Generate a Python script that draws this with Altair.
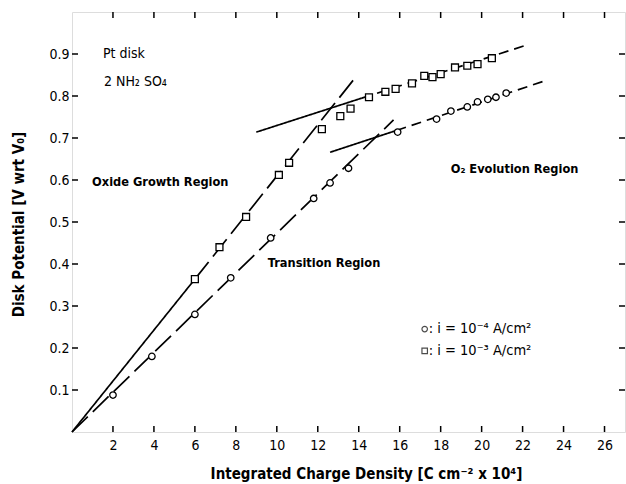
import altair as alt
import pandas as pd

# ---- data ----
circ_x = [2.0, 3.9, 6.0, 7.75, 9.7, 11.8, 12.6, 13.5, 15.9, 17.8, 18.5, 19.3, 19.8, 20.3, 20.7, 21.2]
circ_y = [0.088, 0.18, 0.28, 0.367, 0.462, 0.556, 0.593, 0.628, 0.714, 0.745, 0.764, 0.774, 0.786, 0.792, 0.797, 0.807]
sq_x = [6.0, 7.2, 8.5, 10.1, 10.6, 12.2, 13.1, 13.6, 14.5, 15.3, 15.8, 16.6, 17.2, 17.6, 18.0, 18.7, 19.3, 19.8, 20.5]
sq_y = [0.364, 0.44, 0.512, 0.612, 0.641, 0.721, 0.752, 0.77, 0.797, 0.81, 0.817, 0.83, 0.848, 0.845, 0.852, 0.868, 0.872, 0.876, 0.89]

# fitted / tangent lines: start x, start y, end x, end y, style
line_x1 = [0.0, 6.0, 0.0, 9.0, 14.15, 12.6, 15.84]
line_y1 = [0.0, 0.364, 0.0, 0.714, 0.795, 0.666, 0.718]
line_x2 = [6.0, 13.9, 15.7, 14.15, 22.05, 15.84, 23.2]
line_y2 = [0.364, 0.848, 0.743, 0.795, 0.919, 0.718, 0.838]
line_style = ["solid", "longdash", "longdash", "solid", "dash", "solid", "dash"]

x_ticks = [2, 4, 6, 8, 10, 12, 14, 16, 18, 20, 22, 24, 26]
y_ticks = [0.1, 0.2, 0.3, 0.4, 0.5, 0.6, 0.7, 0.8, 0.9]

note_text = ["Pt disk", "2 NH\u2082 SO\u2084"]
note_x = [1.51, 1.56]
note_y = [0.90, 0.833]

region_text = ["Oxide Growth Region", "Transition Region", "O\u2082 Evolution Region"]
region_x = [0.98, 9.56, 18.49]
region_y = [0.595, 0.402, 0.626]

legend_text = [": i = 10\u207b\u2074 A/cm\u00b2", ": i = 10\u207b\u00b3 A/cm\u00b2"]
legend_marker = ["circle", "square"]
legend_x = [17.22, 17.22]
legend_y = [0.245, 0.193]

FONT = "DejaVu Sans Condensed, DejaVu Sans, sans-serif"

xs = alt.Scale(domain=[0, 27], nice=False, zero=False)
ys = alt.Scale(domain=[0, 1.0], nice=False, zero=False)

circ_df = pd.DataFrame({"x": circ_x, "y": circ_y})
sq_df = pd.DataFrame({"x": sq_x, "y": sq_y})
lines_df = pd.DataFrame({"x": line_x1, "y": line_y1, "x2": line_x2, "y2": line_y2, "style": line_style})

xaxis = alt.Axis(values=x_ticks, grid=False, domain=False, tickSize=0, labelPadding=6,
                 labelFontSize=14, labelFont=FONT, labelColor="black",
                 title="Integrated Charge Density [C cm\u207b\u00b2 x 10\u2074]",
                 titleFont=FONT, titleFontSize=15, titleFontWeight="bold", titleColor="black",
                 titleX=294, titleY=41, titleBaseline="middle")
yaxis = alt.Axis(values=y_ticks, grid=False, domain=False, tickSize=0, labelPadding=3,
                 labelFontSize=14, labelFont=FONT, labelColor="black", format=".1f",
                 title="Disk Potential [V wrt V\u2080]",
                 titleFont=FONT, titleFontSize=15, titleFontWeight="bold", titleColor="black",
                 titleX=-54, titleY=212, titleAngle=270, titleAlign="center", titleBaseline="middle")

base_lines = alt.Chart(lines_df).mark_rule(color="black", strokeWidth=1.7).encode(
    x=alt.X("x:Q", scale=xs, axis=xaxis),
    y=alt.Y("y:Q", scale=ys, axis=yaxis),
    x2="x2:Q", y2="y2:Q",
    strokeDash=alt.StrokeDash("style:N", legend=None,
        scale=alt.Scale(domain=["solid", "longdash", "dash"], range=[[1, 0], [22, 7], [10, 6]])),
)

circles = alt.Chart(circ_df).mark_point(shape="circle", size=42, filled=False, color="black",
                                         strokeWidth=1.3, fill="white", fillOpacity=1).encode(
    x=alt.X("x:Q", scale=xs), y=alt.Y("y:Q", scale=ys))
squares = alt.Chart(sq_df).mark_point(shape="square", size=48, filled=False, color="black",
                                       strokeWidth=1.3, fill="white", fillOpacity=1).encode(
    x=alt.X("x:Q", scale=xs), y=alt.Y("y:Q", scale=ys))

xt_df = pd.DataFrame({"x": x_ticks})
yt_df = pd.DataFrame({"y": y_ticks})
tick_bot = alt.Chart(xt_df).mark_rule(color="black", strokeWidth=1.5).encode(
    x=alt.X("x:Q", scale=xs), y=alt.value(420), y2=alt.value(414))
tick_top = alt.Chart(xt_df).mark_rule(color="black", strokeWidth=1.5).encode(
    x=alt.X("x:Q", scale=xs), y=alt.value(0), y2=alt.value(6))
tick_left = alt.Chart(yt_df).mark_rule(color="black", strokeWidth=1.5).encode(
    y=alt.Y("y:Q", scale=ys), x=alt.value(0), x2=alt.value(6))
tick_right = alt.Chart(yt_df).mark_rule(color="black", strokeWidth=1.5).encode(
    y=alt.Y("y:Q", scale=ys), x=alt.value(553), x2=alt.value(547))

notes = alt.Chart(pd.DataFrame({"t": note_text, "x": note_x, "y": note_y})).mark_text(
    align="left", baseline="middle", font=FONT, fontSize=14, color="black").encode(
    x=alt.X("x:Q", scale=xs), y=alt.Y("y:Q", scale=ys), text="t:N")
regions = alt.Chart(pd.DataFrame({"t": region_text, "x": region_x, "y": region_y})).mark_text(
    align="left", baseline="middle", font=FONT, fontSize=12.7, fontWeight="bold", color="black").encode(
    x=alt.X("x:Q", scale=xs), y=alt.Y("y:Q", scale=ys), text="t:N")

leg_df = pd.DataFrame({"t": legend_text, "m": legend_marker, "x": legend_x, "y": legend_y})
leg_marks = alt.Chart(leg_df).mark_point(size=30, filled=False, color="black", strokeWidth=1.2).encode(
    x=alt.X("x:Q", scale=xs), y=alt.Y("y:Q", scale=ys),
    shape=alt.Shape("m:N", legend=None, scale=alt.Scale(domain=["circle", "square"], range=["circle", "square"])))
leg_text = alt.Chart(leg_df).mark_text(align="left", baseline="middle", dx=4, font=FONT, fontSize=14.5,
                                       color="black").encode(
    x=alt.X("x:Q", scale=xs), y=alt.Y("y:Q", scale=ys), text="t:N")

chart = alt.layer(base_lines, circles, squares, tick_bot, tick_top, tick_left, tick_right,
                  notes, regions, leg_marks, leg_text).properties(
    width=553, height=420,
    autosize=alt.AutoSizeParams(type="none"),
    padding={"left": 72, "top": 12, "right": 1, "bottom": 52},
).configure_view(stroke="black", strokeWidth=1.6).configure(background="white")

chart.save("out.html", embed_options={"renderer": "svg", "actions": False})
